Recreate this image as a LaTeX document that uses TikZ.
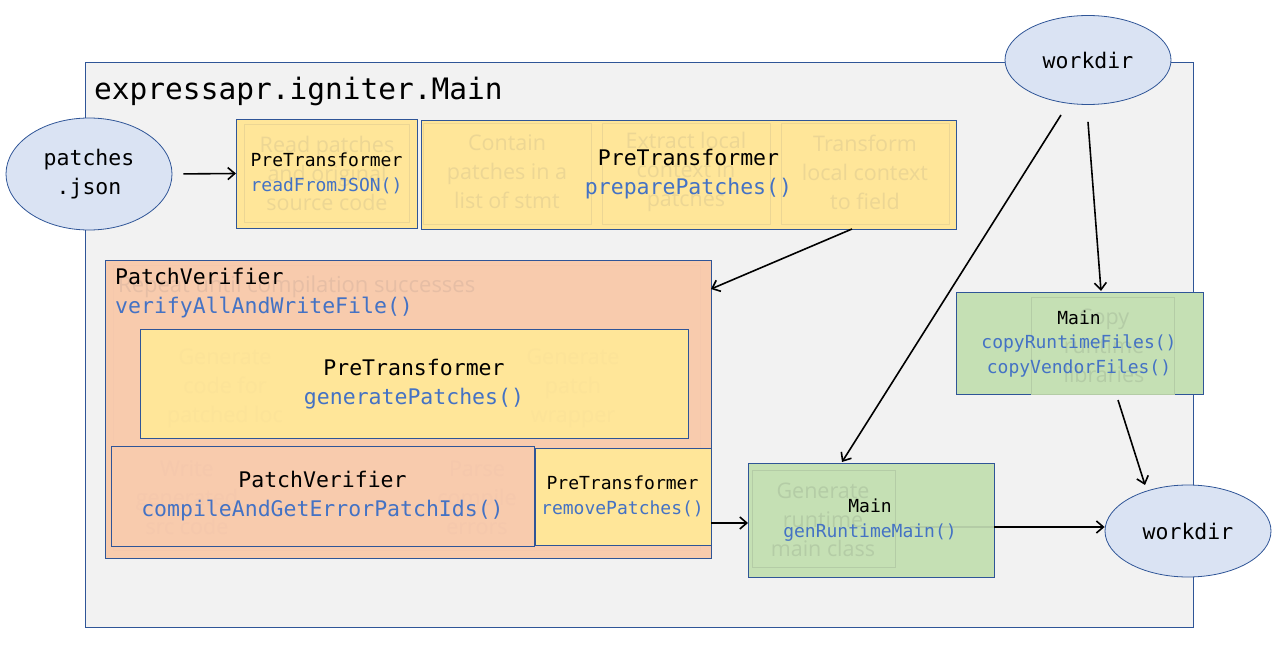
\documentclass[tikz,border=0pt]{standalone}
\usepackage{fontspec}
\setmainfont{Open Sans}
\setmonofont{DejaVu Sans Mono}
\usetikzlibrary{arrows.meta,shapes.geometric,calc}
\definecolor{bord}{HTML}{2F5597}
\definecolor{bgray}{HTML}{F2F2F2}
\definecolor{yel}{HTML}{FFE699}
\definecolor{peach}{HTML}{F8CBAD}
\definecolor{grn}{HTML}{C5E0B4}
\definecolor{ellb}{HTML}{DAE3F3}
\definecolor{mblue}{HTML}{4472C4}
\definecolor{ghY}{RGB}{236,214,148}
\definecolor{ghYf}{RGB}{252,227,152}
\definecolor{ghP}{RGB}{230,190,165}
\definecolor{ghPf}{RGB}{245,200,172}
\definecolor{ghG}{RGB}{180,204,166}
\begin{document}
\begin{tikzpicture}[x=1pt,y=-1pt,
  box/.style={draw=bord, line width=0.9pt, inner sep=0pt, outer sep=0pt, anchor=north west, align=center},
  ell/.style={ellipse, draw=bord, fill=ellb, line width=0.8pt, inner sep=0pt, minimum width=166pt, align=center},
  arr/.style={-{Straight Barb[length=7pt,width=12pt,line width=1.6pt]}, line width=1.6pt},
  tbig/.style={font=\fontsize{21.5}{29}\selectfont\ttfamily},
  tsmall/.style={font=\fontsize{18}{24.5}\selectfont\ttfamily},
  gtxt/.style={font=\fontsize{21.5}{29}\selectfont, align=center, inner sep=0pt},
  grect/.style={draw, line width=0.8pt, inner sep=0pt, anchor=north west}
]
\useasboundingbox (0,0) rectangle (1280,647);
% main container
\node[box, fill=bgray, line width=0.8pt, minimum width=1108pt, minimum height=565pt] (main) at (85,62) {};
\node[anchor=base west, inner sep=0pt, font=\fontsize{29.5}{34}\selectfont\ttfamily] (title) at (94,100) {expressapr.igniter.Main};

% ellipses
\node[ell, minimum height=112pt, tbig] (pj) at (89,174) {patches\\.json};
\node[ell, minimum height=89pt, tbig] (wd) at (1088,60) {workdir};
\node[ell, minimum height=92pt, tbig] (wd2) at (1188,531) {workdir};

% readFromJSON box
\node[box, fill=yel, minimum width=181pt, minimum height=109pt] (rj) at (236,119) {};
\node[grect, draw=ghY, minimum width=165pt, minimum height=98pt] (rjg) at (244,124) {};
\node[gtxt, text=ghY] (rjgt) at (327,173) {Read patches\\and original\\source code};
\node[tsmall, align=center, inner sep=0pt] (rjt) at (326.5,173.5) {PreTransformer\\\textcolor{mblue}{readFromJSON()}};

% preparePatches box
\node[box, fill=yel, minimum width=535pt, minimum height=109pt] (prep) at (421,120) {};
\node[grect, draw=ghY, minimum width=168pt, minimum height=101pt] (pg1) at (423,123) {};
\node[grect, draw=ghY, minimum width=168pt, minimum height=101pt] (pg2) at (602,123) {};
\node[grect, draw=ghY, minimum width=168pt, minimum height=101pt] (pg3) at (781,123) {};
\node[gtxt, text=ghY] (pg1t) at (507,172) {Contain\\patches in a\\list of stmt};
\node[gtxt, text=ghY] (pg2t) at (686,172) {Extract local\\context in\\patches};
\node[gtxt, text=ghY] (pg3t) at (865,172) {Transform\\local context\\to field};
\node[tbig, align=center, inner sep=0pt] (prept) at (688.5,174.5) {PreTransformer\\\textcolor{mblue}{preparePatches()}};

% PatchVerifier outer
\node[box, fill=peach, minimum width=606pt, minimum height=298pt] (pv) at (105,260) {};
\node[grect, draw=ghPf, minimum width=587pt, minimum height=285pt] (pvg) at (113,265) {};
\node[anchor=west, inner sep=0pt, font=\fontsize{22}{29}\selectfont, text=ghP] (pvgt) at (118,287) {Repeat until compilation successes};
\node[tbig, align=left, anchor=west, inner sep=0pt] (pvt) at (115,293) {PatchVerifier\\\textcolor{mblue}{verifyAllAndWriteFile()}};

% generatePatches
\node[box, fill=yel, minimum width=548pt, minimum height=109pt] (gp) at (140,329) {};
\node[gtxt, text=ghYf] (gpg1) at (225,388) {Generate\\code for\\patched loc};
\node[gtxt, text=ghYf] (gpg3) at (573,388) {Generate\\patch\\wrapper};
\node[tbig, align=center, inner sep=0pt] (gpt) at (414,384) {PreTransformer\\\textcolor{mblue}{generatePatches()}};

% compile
\node[box, fill=peach, minimum width=423pt, minimum height=100pt] (cp) at (111,446) {};
\node[gtxt, text=ghPf] (cpg1) at (187,498) {Write\\generated\\src code};
\node[gtxt, text=ghPf] (cpg3) at (477,498) {Parse\\compile\\errors};
\node[tbig, align=center, inner sep=0pt] (cpt) at (322.5,496.5) {PatchVerifier\\\textcolor{mblue}{compileAndGetErrorPatchIds()}};

% removePatches
\node[box, fill=yel, minimum width=176pt, minimum height=97pt] (rm) at (535,448) {};
\node[tsmall, align=center, inner sep=0pt] (rmt) at (622.5,496.5) {PreTransformer\\\textcolor{mblue}{removePatches()}};

% genRuntimeMain
\node[box, fill=grn, minimum width=246pt, minimum height=114pt] (gen) at (748,463) {};
\node[grect, draw=ghG, minimum width=143pt, minimum height=97pt] (geng) at (752,470) {};
\node[gtxt, text=ghG] (gengt) at (823,520) {Generate\\runtime\\main class};
\coordinate (genl) at (910,527);
\draw[ghG, line width=1.2pt] (genl) -- (gen.east |- genl);
\node[tsmall, align=center, inner sep=0pt] (gent) at (870,520) {Main\\\textcolor{mblue}{genRuntimeMain()}};

% copy files
\node[box, fill=grn, minimum width=247pt, minimum height=102pt] (cf) at (956,292) {};
\node[grect, draw=ghG, minimum width=143pt, minimum height=97pt] (cfg) at (1031,297) {};
\node[gtxt, text=ghG] (cfgt) at (1104,346) {Copy\\runtime\\libraries};
\node[tsmall, align=center, inner sep=0pt] (cft) at (1079,344) {Main\\\textcolor{mblue}{copyRuntimeFiles()}\\\textcolor{mblue}{copyVendorFiles()}};

% arrows
\draw[arr, shorten <=11pt] (pj.east) -- (rj.west);
\draw[arr] ($(prep.south east)+(-104,0)$) -- ($(pv.north east)+(0,29)$);
\draw[arr] ($(rm.south east)+(0,-22)$) -- ($(gen.south west)+(0,-54)$);
\draw[arr] ($(gen.east)+(0,7)$) -- ($(wd2.west)+(0,-4)$);
\draw[arr] ($(wd.center)+(-27,55)$) -- ($(gen.north west)+(94,-1)$);
\draw[arr] ($(wd.south)+(0,17)$) -- ($(cf.north west)+(145,-1)$);
\draw[arr] ($(cf.south west)+(162,6)$) -- ($(wd2.center)+(-43,-46)$);
\end{tikzpicture}
\end{document}
